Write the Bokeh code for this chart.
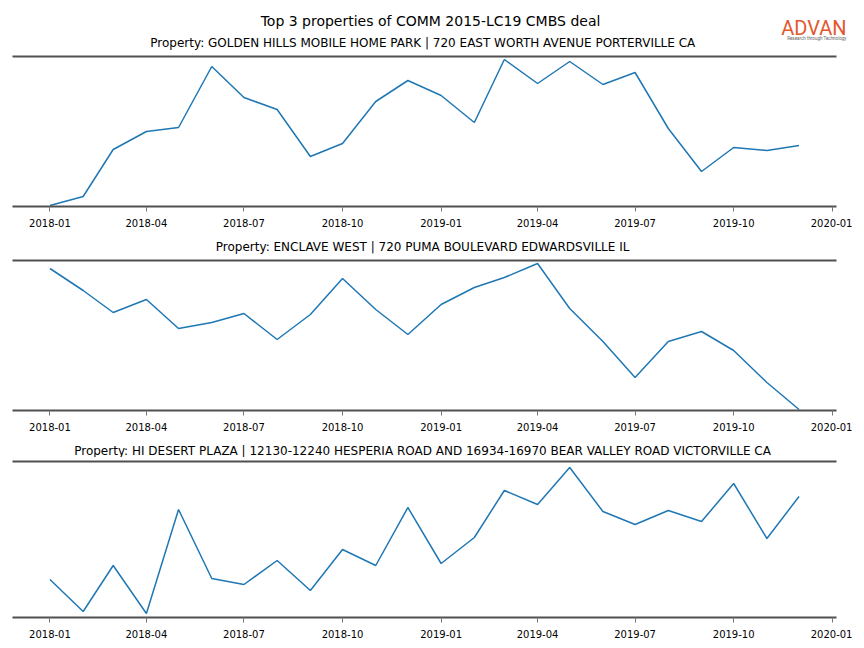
from datetime import datetime
from bokeh.plotting import figure
from bokeh.layouts import column
from bokeh.models import (LinearAxis, FixedTicker, DatetimeTickFormatter,
                          Range1d, ColumnDataSource)
from bokeh.embed import file_html
from bokeh.resources import INLINE
from bokeh.core.properties import value

# ---------------- data ----------------
months = ["2018-01", "2018-02", "2018-03", "2018-04", "2018-05", "2018-06",
          "2018-07", "2018-08", "2018-09", "2018-10", "2018-11", "2018-12",
          "2019-01", "2019-02", "2019-03", "2019-04", "2019-05", "2019-06",
          "2019-07", "2019-08", "2019-09", "2019-10", "2019-11", "2019-12"]

golden_hills = [1, 10, 57, 75, 79, 140, 109, 97, 50, 63, 105, 126,
                111, 84, 147, 123, 145, 122, 134, 78, 35, 59, 56, 61]
enclave_west = [142, 120, 98, 111, 82, 88, 97, 71, 96, 132, 101, 76,
                106, 123, 133, 147, 102, 69, 33, 69, 79, 60, 28, 1]
hi_desert = [38, 6, 52, 4, 108, 39, 33, 57, 27, 68, 52, 110,
             54, 80, 127, 113, 150, 106, 93, 107, 96, 134, 79, 121]

series = [golden_hills, enclave_west, hi_desert]
y_max = [150, 150, 156]

titles = ["Property: GOLDEN HILLS MOBILE HOME PARK | 720 EAST WORTH AVENUE PORTERVILLE CA",
          "Property: ENCLAVE WEST | 720 PUMA BOULEVARD EDWARDSVILLE IL",
          "Property: HI DESERT PLAZA | 12130-12240 HESPERIA ROAD AND 16934-16970 BEAR VALLEY ROAD VICTORVILLE CA"]

tick_labels = ["2018-01", "2018-04", "2018-07", "2018-10", "2019-01",
               "2019-04", "2019-07", "2019-10", "2020-01"]

main_title = "Top 3 properties of COMM 2015-LC19 CMBS deal"
logo_text = "ADVAN"
logo_sub = "Research through Technology"

# ---------------- helpers ----------------
def to_ms(s):
    return datetime.strptime(s, "%Y-%m").timestamp() * 1000.0

x_ms = [to_ms(m) for m in months]
tick_ms = [to_ms(t) for t in tick_labels]
span = x_ms[-1] - x_ms[0]
x_start = x_ms[0] - 0.05 * span
x_end = x_ms[-1] + 0.05 * span

FONT = "DejaVu Sans"
SPINE = "#505050"
W = 852


def strip(top, bottom, width=W):
    """A text-only band; its y range is in page pixels (top-down)."""
    s = figure(width=width, height=bottom - top, output_backend="svg",
               toolbar_location=None, min_border=0,
               x_range=Range1d(0, width), y_range=Range1d(bottom, top))
    s.axis.visible = False
    s.grid.visible = False
    s.outline_line_color = None
    return s


def add_text(s, x, y, txt, size, color="black", font=FONT, align="center"):
    s.text(x=[x], y=[y], text=[txt], text_align=align,
           text_baseline="middle", text_font=value(font),
           text_font_size=size, text_color=color)


# header: main title, logo, first subtitle
header = strip(0, 50, width=864)
add_text(header, 432, 20, main_title, "14px")
add_text(header, 862, 27, logo_text, "20px", color="#e4572e", font="Roboto",
         align="right")
add_text(header, 862, 38, logo_sub, "4.5px", color="#666666", font="Roboto",
         align="right")
add_text(header, 424, 42, titles[0], "12px")

strip2 = strip(236, 254)
add_text(strip2, 424, 246, titles[1], "12px")
strip3 = strip(438, 457)
add_text(strip3, 424, 450, titles[2], "12px")

# (height, border_top, border_bottom) -> frames at 56-206, 260-410, 461-617
geo = [(186, 6, 30), (184, 6, 28), (186, 4, 26)]

panels = []
for i, vals in enumerate(series):
    h, bt, bb = geo[i]
    p = figure(width=W, height=h, x_axis_type="datetime",
               output_backend="svg", toolbar_location=None,
               min_border_top=bt, min_border_bottom=bb,
               min_border_left=12, min_border_right=16,
               x_range=Range1d(x_start, x_end),
               y_range=Range1d(0, y_max[i]))
    p.outline_line_color = None
    p.grid.visible = False
    p.yaxis.visible = False

    src = ColumnDataSource(dict(x=x_ms, y=vals))
    p.line("x", "y", source=src, line_color="#1f77b4", line_width=1.5)

    ax = p.xaxis[0]
    ax.ticker = FixedTicker(ticks=tick_ms, minor_ticks=[])
    ax.formatter = DatetimeTickFormatter(months="%Y-%m", days="%Y-%m",
                                         years="%Y-%m")
    ax.axis_line_color = SPINE
    ax.axis_line_width = 1.8
    ax.major_tick_in = 0
    ax.major_tick_out = 5
    ax.major_tick_line_color = "#777777"
    ax.major_tick_line_width = 1
    ax.minor_tick_line_color = None
    ax.major_label_standoff = 7
    ax.major_label_text_font = FONT
    ax.major_label_text_font_size = "10px"
    ax.major_label_text_color = "black"

    top = LinearAxis(ticker=FixedTicker(ticks=[]), major_label_text_font_size="0px",
                     major_tick_line_color=None, minor_tick_line_color=None,
                     major_tick_in=0, major_tick_out=0,
                     axis_line_color=SPINE, axis_line_width=1.8,
                     major_label_standoff=0)
    p.add_layout(top, "above")
    panels.append(p)

layout = column(header, panels[0], strip2, panels[1], strip3, panels[2], spacing=0)
open("out.html", "w").write(file_html(layout, INLINE))
